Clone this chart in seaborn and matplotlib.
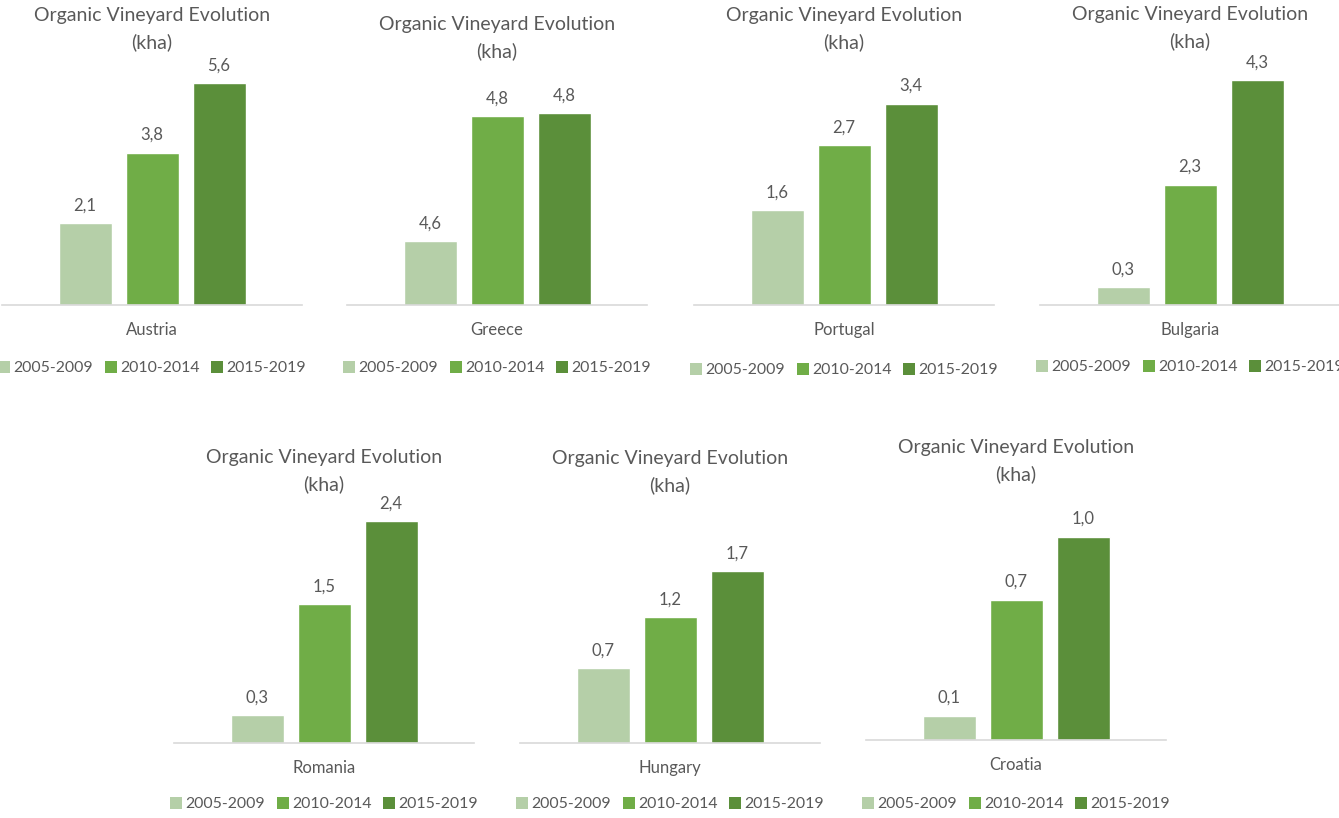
import numpy as np
import pandas as pd
import matplotlib.pyplot as plt
from matplotlib.patches import Patch
import seaborn as sns

# data (kha)
periods = ["2005-2009", "2010-2014", "2015-2019"]
countries = ["Austria", "Greece", "Portugal", "Bulgaria", "Romania", "Hungary", "Croatia"]
austria = [2.07, 3.84, 5.6]
greece = [4.6, 4.795, 4.80]
portugal = [1.6, 2.7, 3.4]
bulgaria = [0.34, 2.3, 4.3]
romania = [0.3, 1.5, 2.4]
hungary = [0.74, 1.24, 1.7]
croatia = [0.12, 0.69, 1.0]
series = [austria, greece, portugal, bulgaria, romania, hungary, croatia]

colors = ["#B5CFA8", "#70AD47", "#5B8F3A"]
text_color = "#595959"

# layout in pixels: centre of middle bar, baseline y, axes top y, title y, y range
W, H = 1339, 818
centers = [152, 497, 844, 1190, 324, 670, 1016]
baselines = [305, 305, 305, 305, 743, 743, 740]
tops = [60, 60, 60, 60, 500, 500, 500]
title_y = [15, 24, 15, 14, 457, 458, 447]
legend_y = [368, 368, 370, 367, 804, 804, 804]
ylims = [(0, 6.18), (4.5, 4.883), (0, 4.14), (0, 4.68), (0, 2.63), (0, 2.40), (0, 1.18)]

sns.set_theme(style="white")
plt.rcParams["font.family"] = ["Lato", "DejaVu Sans"]

fig = plt.figure(figsize=(W / 100, H / 100), dpi=100)

bar_step = 67  # px between bar centres
ax_w = 300

for i, country in enumerate(countries):
    left = centers[i] - ax_w / 2
    height = baselines[i] - tops[i]
    ax = fig.add_axes([left / W, 1 - baselines[i] / H, ax_w / W, height / H])
    df = pd.DataFrame({"period": periods, "value": series[i]})
    sns.barplot(data=df, x="period", y="value", hue="period", palette=colors,
                width=53 / bar_step, ax=ax, saturation=1, legend=False)
    half = ax_w / 2 / bar_step
    ax.set_xlim(1 - half, 1 + half)
    ax.set_ylim(*ylims[i])
    for c in ax.containers:
        ax.bar_label(c, labels=[f"{v:.1f}".replace(".", ",") for v in c.datavalues],
                     padding=7, fontsize=12, color=text_color)
    for s in ["top", "right", "left"]:
        ax.spines[s].set_visible(False)
    ax.spines["bottom"].set_color("#D9D9D9")
    ax.spines["bottom"].set_linewidth(1.2)
    ax.set_xticks([])
    ax.set_yticks([])
    ax.set_ylabel("")
    ax.set_xlabel("")
    ax.text(0.5, -25 / height, country, transform=ax.transAxes, ha="center", va="center",
            fontsize=12, color=text_color)
    handles = [Patch(facecolor=c, edgecolor="none") for c in colors]
    leg = ax.legend(handles, periods, loc="center",
                    bbox_to_anchor=(0.5, -(legend_y[i] - baselines[i]) / height),
                    ncol=3, frameon=False, fontsize=11.4, handlelength=0.76, handleheight=0.76,
                    handletextpad=0.2, columnspacing=0.75, borderpad=0)
    for t in leg.get_texts():
        t.set_color(text_color)
    fig.text(centers[i] / W, 1 - (title_y[i] - 8) / H, "Organic Vineyard Evolution\n(kha)",
             ha="center", va="top", fontsize=14, color=text_color, linespacing=1.6)

fig.savefig("out.png", dpi=100)
